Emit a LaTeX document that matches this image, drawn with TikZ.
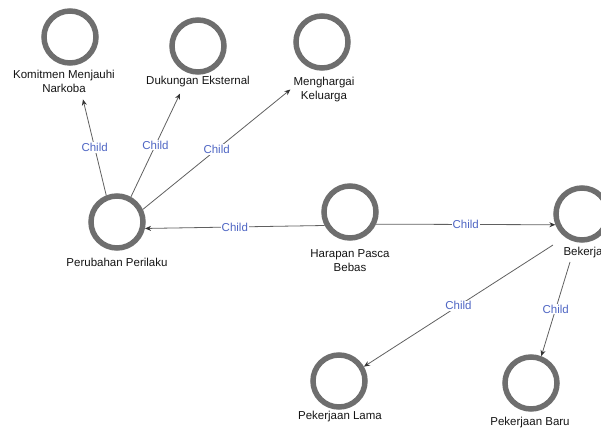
\documentclass[tikz,border=0pt]{standalone}
\usepackage{fontspec}
\setmainfont{Liberation Sans}
\usetikzlibrary{arrows.meta}
\definecolor{ringgray}{HTML}{6E6E6E}
\definecolor{edgegray}{HTML}{606060}
\definecolor{childblue}{HTML}{4F66C4}
\begin{document}
\begin{tikzpicture}[x=1pt,y=-1pt,
  ring/.style={circle,draw=ringgray,line width=5.5pt,minimum size=52pt,inner sep=0pt},
  lbl/.style={font=\fontsize{11.5}{14}\selectfont,align=center,inner sep=1pt,text=black!92},
  edge/.style={draw=edgegray,line width=0.8pt,-{Stealth[length=6pt,width=5pt,color=black!80]}},
  child/.style={font=\fontsize{11.5}{13}\selectfont,text=childblue,fill=white,inner sep=1pt,midway}]
\useasboundingbox (0,0) rectangle (601,430);
% circles
\node[ring] (kom) at (70,37) {};
\node[ring] (duk) at (198,46) {};
\node[ring] (men) at (322,42) {};
\node[ring] (per) at (117,222) {};
\node[ring] (har) at (350,212) {};
\node[ring] (bek) at (582,214) {};
\node[ring] (lama) at (339,381) {};
\node[ring] (baru) at (531,383) {};
% labels
\node[lbl] (koml) at (64,81) {Komitmen Menjauhi\\Narkoba};
\node[lbl] (dukl) at (198,82) {Dukungan Eksternal};
\node[lbl] (menl) at (324,89.5) {Menghargai\\Keluarga};
\node[lbl] (perl) at (117,262) {Perubahan Perilaku};
\node[lbl] (harl) at (350,261) {Harapan Pasca\\Bebas};
\node[lbl] (bekl) at (583,253) {Bekerja};
\node[lbl] (lamal) at (340,417) {Pekerjaan Lama};
\node[lbl] (barul) at (530,423) {Pekerjaan Baru};
% edges
\draw[edge] (per.112) -- node[child]{Child} ([xshift=19pt,yshift=-6pt]koml.south);
\draw[edge] (per.61) -- node[child]{Child} ([xshift=-18pt,yshift=-5pt]dukl.south);
\draw[edge] (per.26) -- node[child]{Child} ([xshift=-2pt,yshift=0pt]menl.west);
\draw[edge] (har.208) -- node[child]{Child} (per.-13);
\draw[edge] (har.-25) -- node[child]{Child} (bek.202);
\draw[edge] ([shift={(-29pt,-31pt)}]bek.center) -- node[child]{Child} (lama.30);
\draw[edge] ([shift={(-12pt,-48pt)}]bek.center) -- node[child]{Child} (baru.69);
\end{tikzpicture}
\end{document}
